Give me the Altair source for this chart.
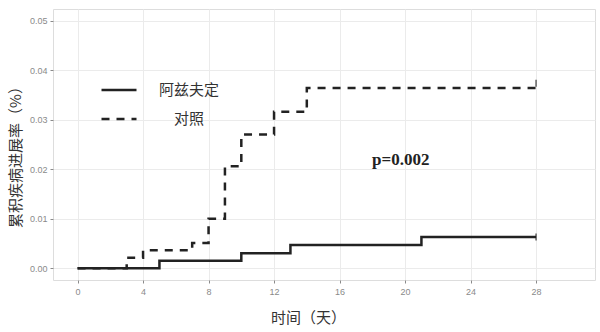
import altair as alt
import pandas as pd

# Data
azv_t = [0, 5, 10, 13, 21, 28]
azv_y = [0.0, 0.0015, 0.0030, 0.0047, 0.0063, 0.0063]
ctl_t = [0, 3, 4, 7, 8, 9, 10, 12, 14, 28]
ctl_y = [0.0, 0.0021, 0.0036, 0.0051, 0.0100, 0.0206, 0.0270, 0.0316, 0.0364, 0.0364]
groups = ["阿兹夫定", "对照"]
censor_t = [28, 28]
censor_y = [0.0063, 0.0374]
x_grid = list(range(0, 31, 2))
y_grid = [0, 0.005, 0.01, 0.015, 0.02, 0.025, 0.03, 0.035, 0.04, 0.045, 0.05]
p_text = ["p=0.002"]
p_pos_t = [19.74]
p_pos_y = [0.0219]

rows = [{"t": t, "y": y, "g": groups[0]} for t, y in zip(azv_t, azv_y)]
rows += [{"t": t, "y": y, "g": groups[1]} for t, y in zip(ctl_t, ctl_y)]
df = pd.DataFrame(rows)
ann = pd.DataFrame({"t": p_pos_t, "y": p_pos_y, "label": p_text})
cens = pd.DataFrame({"t": censor_t, "y": censor_y})

xscale = alt.Scale(domain=[-1.5, 31.6], nice=False, zero=False)
yscale = alt.Scale(domain=[-0.0024, 0.0524], nice=False, zero=False)

xaxis = alt.Axis(
    values=x_grid,
    labelExpr="datum.value % 4 == 0 ? datum.label : ''",
    title="时间（天）",
    titleFont="Noto Sans CJK SC", titleFontSize=15, titleFontWeight="normal",
    titleColor="#333333", titleX=255, titleY=37, titleBaseline="middle",
    titleAlign="center",
    labelFont="Liberation Sans", labelFontSize=9, labelColor="#8a8a8a",
    tickColor="#8a8a8a", tickSize=3,
    tickOpacity={"condition": {"test": "datum.value % 4 == 0", "value": 1}, "value": 0},
    gridColor="#ebebeb",
    gridWidth={"condition": {"test": "datum.value % 4 == 0", "value": 1}, "value": 0.6},
    domain=False, labelPadding=4,
)
yaxis = alt.Axis(
    values=y_grid,
    labelExpr="(round(datum.value*1000) % 10 == 0) ? format(datum.value, '.2f') : ''",
    title="累积疾病进展率（%）",
    titleFont="Noto Sans CJK SC", titleFontSize=15, titleFontWeight="normal",
    titleColor="#333333", titleX=-38, titleY=144, titleAngle=270,
    titleAlign="center", titleBaseline="middle",
    labelFont="Liberation Sans", labelFontSize=9, labelColor="#8a8a8a",
    tickColor="#8a8a8a", tickSize=3,
    tickOpacity={"condition": {"test": "round(datum.value*1000) % 10 == 0", "value": 1}, "value": 0},
    gridColor="#ebebeb",
    gridWidth={"condition": {"test": "round(datum.value*1000) % 10 == 0", "value": 1}, "value": 0.6},
    domain=False, labelPadding=3,
)

lines = alt.Chart(df).mark_line(interpolate="step-after", strokeWidth=2.5, color="#222222").encode(
    x=alt.X("t:Q", scale=xscale, axis=xaxis),
    y=alt.Y("y:Q", scale=yscale, axis=yaxis),
    strokeDash=alt.StrokeDash(
        "g:N",
        scale=alt.Scale(domain=groups, range=[[1, 0], [8, 7]]),
        legend=alt.Legend(
            title=None, orient="none", legendX=47, legendY=62,
            symbolType="stroke", symbolSize=1225, symbolStrokeWidth=2.5,
            symbolStrokeColor="#222222",
            labelFont="Noto Sans CJK SC", labelFontSize=15, labelColor="#333333",
            labelAlign="center", labelOffset=51, rowPadding=2,
        ),
    ),
)

ticks = alt.Chart(cens).mark_tick(orient="vertical", size=7, thickness=1.5, color="#222222").encode(
    x=alt.X("t:Q", scale=xscale), y=alt.Y("y:Q", scale=yscale)
)

text = alt.Chart(ann).mark_text(
    font="Liberation Serif", fontSize=17, fontWeight="bold", color="#222222"
).encode(x=alt.X("t:Q", scale=xscale), y=alt.Y("y:Q", scale=yscale), text="label:N")

chart = alt.layer(lines, ticks, text).properties(
    width=542, height=271,
    autosize=alt.AutoSizeParams(type="none"),
    padding={"left": 53, "top": 9, "right": 5, "bottom": 52},
).configure_view(stroke="#8a8a8a", strokeWidth=1).configure(background="white")

chart.save("out.html", embed_options={"renderer": "svg", "actions": False})
